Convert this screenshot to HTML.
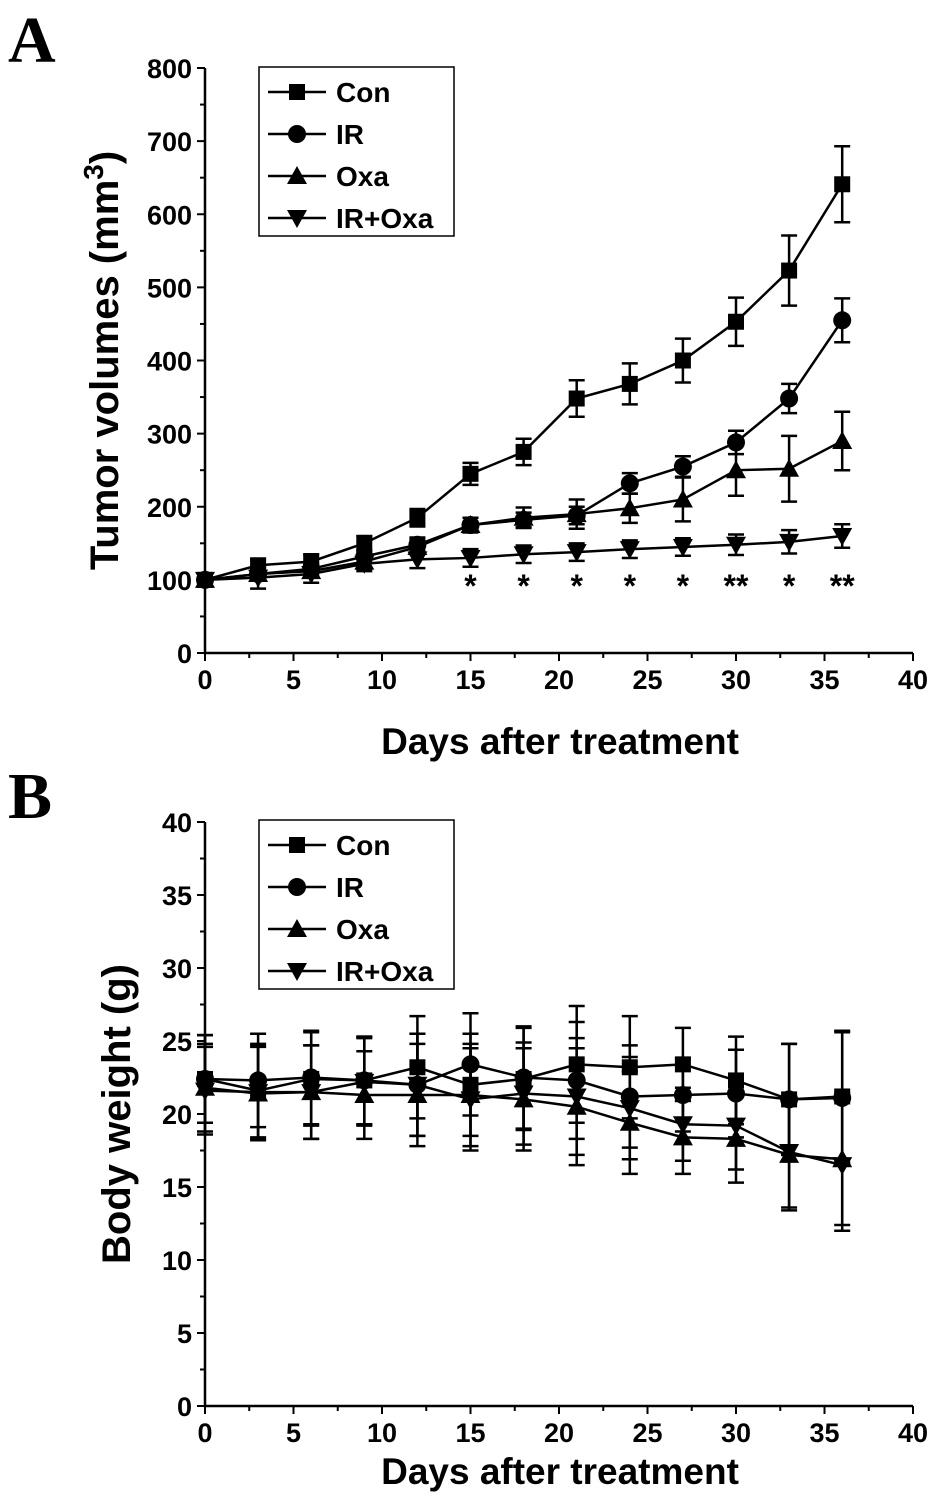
<!DOCTYPE html>
<html><head><meta charset="utf-8"><style>
body{margin:0;background:#fff}
svg{display:block}
text{font-family:"Liberation Sans",Arial,sans-serif;font-weight:bold;fill:#000}
</style></head><body>
<svg id="s" width="945" height="1507" viewBox="0 0 945 1507">
<text x="8" y="62" style="font-family:'Liberation Serif',serif;font-size:66px">A</text>
<text x="8" y="818" style="font-family:'Liberation Serif',serif;font-size:66px">B</text>
</svg>
<script>
const days=[0,3,6,9,12,15,18,21,24,27,30,33,36];
const seriesNames=["Con","IR","Oxa","IR+Oxa"];
const volCon=[100,120,125,150,185,245,275,348,368,400,453,523,641];
const volIR=[100,108,115,132,148,175,182,188,232,255,288,348,455];
const volOxa=[100,108,112,125,145,175,185,190,198,210,250,252,290];
const volIROxa=[100,103,108,122,128,130,135,138,142,145,148,152,160];
const volErrCon=[5,8,10,10,12,15,18,25,28,30,33,48,52];
const volErrIR=[5,6,8,8,10,10,10,12,14,14,16,20,30];
const volErrOxa=[5,8,8,10,10,10,14,20,20,30,35,45,40];
const volErrIROxa=[5,15,12,10,12,12,12,12,12,12,14,16,16];
const stars=["","","","","","*","*","*","*","*","**","*","**"];
const bwCon=[22.4,21.6,22.4,22.3,23.2,22.0,22.4,23.4,23.2,23.4,22.3,21.0,21.2];
const bwIR=[22.4,22.3,22.5,22.3,22.0,23.4,22.5,22.3,21.2,21.3,21.4,21.0,21.1];
const bwOxa=[21.8,21.4,21.5,21.3,21.3,21.3,21.0,20.5,19.4,18.4,18.3,17.2,16.9];
const bwIROxa=[21.6,21.5,21.5,22.2,22.0,21.0,21.4,21.2,20.4,19.3,19.2,17.4,16.5];
const bwErr=[3,3.2,3.2,3,3.5,3.5,3.5,4,3.5,2.5,3,3.8,4.5];
const xTicks=[0,5,10,15,20,25,30,35,40];
const volTicks=[0,100,200,300,400,500,600,700,800];
const bwTicks=[0,5,10,15,20,25,30,35,40];

const S=document.getElementById('s'),NS="http://www.w3.org/2000/svg";
function el(t,a,p){const e=document.createElementNS(NS,t);for(const k in a)e.setAttribute(k,a[k]);(p||S).appendChild(e);return e;}
const X0=205,X1=913;
const sx=d=>X0+(d-0)/40*(X1-X0);
function marker(g,type,x,y,r){
  let e;
  if(type==0)e=el('rect',{x:x-r,y:y-r,width:2*r,height:2*r,fill:'#000'},g);
  else if(type==1)e=el('circle',{cx:x,cy:y,r:r+1,fill:'#000'},g);
  else if(type==2)e=el('polygon',{points:`${x},${y-r-2} ${x-r-2},${y+r} ${x+r+2},${y+r}`,fill:'#000'},g);
  else e=el('polygon',{points:`${x},${y+r+2} ${x-r-2},${y-r} ${x+r+2},${y-r}`,fill:'#000'},g);
  return e;
}
function panel(id,yTop,yBot,yMax,ticks,series,errs,title,legY,xtOff,ytX){
  const sy=v=>yBot-v/yMax*(yBot-yTop);
  const g=el('g',{});
  
  
  const ax=el('path',{d:`M${X0},${yTop} V${yBot} H${X1}`,stroke:'#000','stroke-width':2.5,fill:'none'},g);
  
  
  xTicks.forEach(t=>{el('line',{x1:sx(t),x2:sx(t),y1:yBot,y2:yBot+8,stroke:'#000','stroke-width':2},g);
    const tx=el('text',{x:sx(t),y:yBot+36,'text-anchor':'middle','font-size':27},g);tx.textContent=t;
    
    });
  for(let t=0;t<=40;t+=2.5){if(t%5)el('line',{x1:sx(t),x2:sx(t),y1:yBot,y2:yBot+5,stroke:'#000','stroke-width':2},g);}
  ticks.forEach((t,i)=>{el('line',{x1:X0-8,x2:X0,y1:sy(t),y2:sy(t),stroke:'#000','stroke-width':2},g);
    if(i<ticks.length-1){const m=(t+ticks[i+1])/2;el('line',{x1:X0-5,x2:X0,y1:sy(m),y2:sy(m),stroke:'#000','stroke-width':2},g);}
    const tx=el('text',{x:X0-13,y:sy(t)+10,'text-anchor':'end','font-size':27},g);tx.textContent=t;
    
    });
  const xt=el('text',{x:560,y:yBot+xtOff,'text-anchor':'middle','font-size':37},g);xt.textContent='Days after treatment';
  
  
  const yt=el('text',{x:0,y:0,'text-anchor':'middle','font-size':40,transform:`translate(${ytX},${(yTop+yBot)/2}) rotate(-90)`},g);
  if(id=='panel-a'){yt.textContent='Tumor volumes (mm';const sp=el('tspan',{dy:-15,'font-size':28},yt);sp.textContent='3';const sp2=el('tspan',{dy:15},yt);sp2.textContent=')';}
  else yt.textContent=title;
  
  
  series.forEach((vals,si)=>{
    const sg=el('g',{},g);
    
    
    days.forEach((d,i)=>{const x=sx(d),e=errs[si][i];
      const eb=el('path',{d:`M${x},${sy(vals[i]-e)}V${sy(vals[i]+e)}M${x-8},${sy(vals[i]-e)}h16M${x-8},${sy(vals[i]+e)}h16`,stroke:'#000','stroke-width':2.5,fill:'none'},sg);
      
      });
    const ln=el('polyline',{points:days.map((d,i)=>sx(d)+','+sy(vals[i])).join(' '),stroke:'#000','stroke-width':2.5,fill:'none'},sg);
    
    
    days.forEach((d,i)=>{const m=marker(sg,si,sx(d),sy(vals[i]),8);
      
      });
  });
  const lg=el('g',{},g);
  
  
  el('rect',{x:259,y:legY,width:195,height:169,fill:'#fff',stroke:'#000','stroke-width':1.5},lg);
  seriesNames.forEach((n,i)=>{const y=legY+25+i*42;
    el('line',{x1:268,x2:326,y1:y,y2:y,stroke:'#000','stroke-width':2.5},lg);
    marker(lg,i,297,y,8);
    const t=el('text',{x:336,y:y+10,'font-size':28},lg);t.textContent=n;
    
    });
  return sy;
}
panel('panel-a',68,653,800,volTicks,[volCon,volIR,volOxa,volIROxa],[volErrCon,volErrIR,volErrOxa,volErrIROxa],'',67,101,118);
stars.forEach((s,i)=>{if(!s)return;const t=el('text',{x:sx(days[i]),y:597,'text-anchor':'middle','font-size':32});t.textContent=s;
  
  });
panel('panel-b',822,1406,40,bwTicks,[bwCon,bwIR,bwOxa,bwIROxa],[bwErr,bwErr,bwErr,bwErr],'Body weight (g)',820,78,130);
</script>
</body></html>
